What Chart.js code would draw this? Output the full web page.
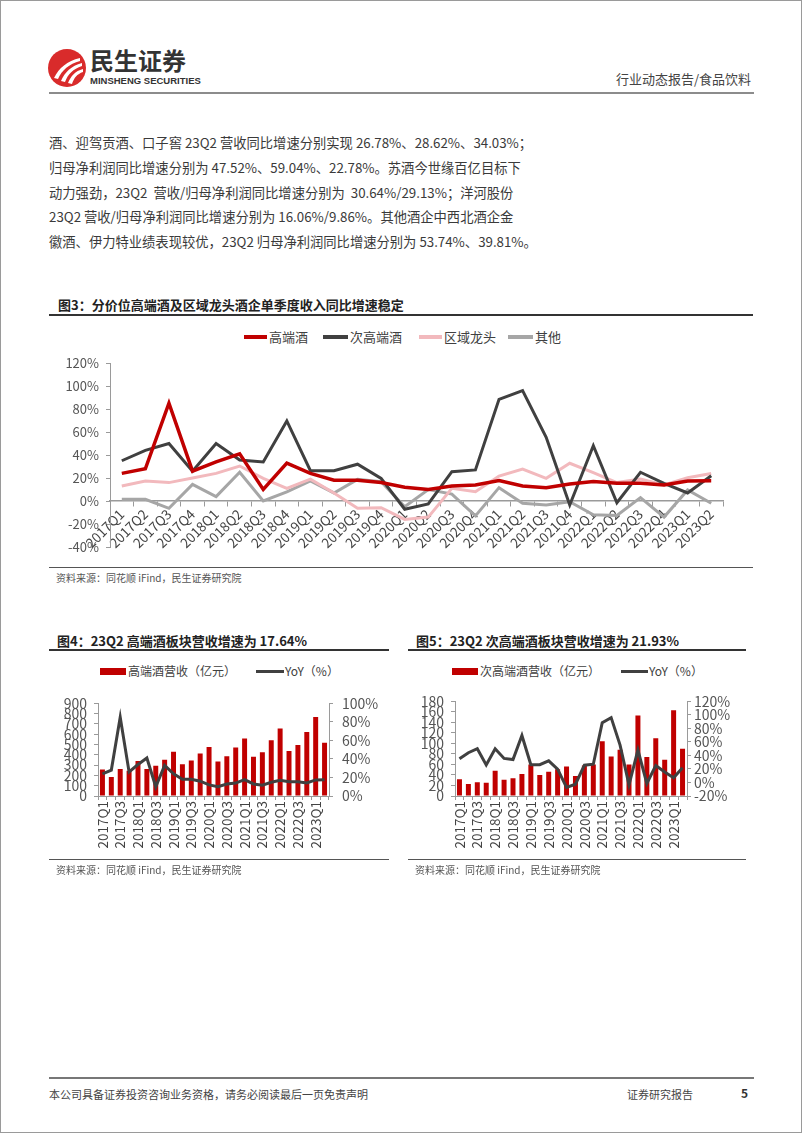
<!DOCTYPE html>
<html lang="zh">
<head>
<meta charset="utf-8">
<title>食品饮料 行业动态报告</title>
<script src="https://cdn.jsdelivr.net/npm/chart.js@4.4.1/dist/chart.umd.min.js"></script>
<style>
    html, body { margin: 0; padding: 0; background: #fff; }
    #page {
        position: relative;
        width: 802px;
        height: 1133px;
        box-sizing: border-box;
        border: 1px solid #9a9a9a;
        overflow: hidden;
        font-family: "Noto Sans CJK SC", "Noto Sans", sans-serif;
        color: #333;
    }
    .abs { position: absolute; white-space: nowrap; }
    .rule { position: absolute; }
    .body-line { position: absolute; left: 48px; font-size: 13.3px; line-height: 20px; color: #3a3a3a; white-space: nowrap; }
    .fig-title { position: absolute; font-size: 13px; line-height: 16px; font-weight: bold; color: #222; white-space: nowrap; }
    .source { position: absolute; font-size: 10px; line-height: 12px; color: #555; white-space: nowrap; }
    .lg-text { position: absolute; color: #404040; white-space: nowrap; }
    .lg-line { position: absolute; }
    canvas { position: absolute; }
</style>
</head>
<body>
<div id="page">

    <!-- header -->
    <svg class="abs" style="left:46px;top:47px;" width="40" height="40" viewBox="0 0 40 40">
        <circle cx="20" cy="20" r="19" fill="#d92b2b"/>
        <path d="M7 30 C 12 20, 20 13, 33 10 L 33 13 C 22 16, 15 22, 11 31 Z" fill="#fff"/>
        <path d="M14 33 C 18 24, 24 18, 35 15 L 35 18 C 26 21, 21 26, 18 34 Z" fill="#fff"/>
        <path d="M21 35 C 24 28, 28 23, 36 21 L 36 24 C 30 26, 27 30, 25 36 Z" fill="#fff"/>
    </svg>
    <div class="abs" style="left:89px;top:45px;font-size:24px;line-height:28px;font-weight:bold;color:#333;">民生证券</div>
    <div class="abs" style="left:89px;top:74px;font-size:9.5px;line-height:12px;font-weight:bold;color:#333;font-family:'Liberation Sans Narrow','Liberation Sans',sans-serif;">MINSHENG SECURITIES</div>
    <div class="abs" style="right:50px;top:70px;font-size:13px;line-height:16px;color:#444;">行业动态报告/食品饮料</div>
    <div class="rule" style="left:48px;top:91px;width:705px;height:2px;background:#8c8c8c;"></div>

    <!-- body text -->
    <div class="body-line" style="top:132px;">酒、迎驾贡酒、口子窖 23Q2 营收同比增速分别实现 26.78%、28.62%、34.03%；</div>
    <div class="body-line" style="top:157px;">归母净利润同比增速分别为 47.52%、59.04%、22.78%。苏酒今世缘百亿目标下</div>
    <div class="body-line" style="top:182px;">动力强劲，23Q2&nbsp; 营收/归母净利润同比增速分别为&nbsp; 30.64%/29.13%；洋河股份</div>
    <div class="body-line" style="top:206px;">23Q2 营收/归母净利润同比增速分别为 16.06%/9.86%。其他酒企中西北酒企金</div>
    <div class="body-line" style="top:231px;">徽酒、伊力特业绩表现较优，23Q2 归母净利润同比增速分别为 53.74%、39.81%。</div>

    <!-- figure 3 -->
    <div class="fig-title" style="left:57px;top:296px;">图3：分价位高端酒及区域龙头酒企单季度收入同比增速稳定</div>
    <div class="rule" style="left:48px;top:313px;width:704px;height:1.5px;background:#333;"></div>

    <div class="lg-line" style="left:243px;top:334px;width:23px;height:3.5px;background:#c00000;"></div>
    <div class="lg-text" style="left:268px;top:328px;font-size:13px;line-height:16px;">高端酒</div>
    <div class="lg-line" style="left:322px;top:334px;width:25px;height:3.5px;background:#404040;"></div>
    <div class="lg-text" style="left:349px;top:328px;font-size:13px;line-height:16px;">次高端酒</div>
    <div class="lg-line" style="left:418px;top:334px;width:23px;height:3.5px;background:#f2b9bd;"></div>
    <div class="lg-text" style="left:443px;top:328px;font-size:13px;line-height:16px;">区域龙头</div>
    <div class="lg-line" style="left:507px;top:334px;width:25px;height:3.5px;background:#a6a6a6;"></div>
    <div class="lg-text" style="left:534px;top:328px;font-size:13px;line-height:16px;">其他</div>

    <canvas id="chartGrowth" width="700" height="215" style="left:40px;top:347px;"></canvas>

    <div class="rule" style="left:48px;top:566px;width:704px;height:1px;background:#555;"></div>
    <div class="source" style="left:55px;top:571px;">资料来源：同花顺 iFind，民生证券研究院</div>

    <!-- figure 4 -->
    <div class="fig-title" style="left:56px;top:632px;">图4：23Q2 高端酒板块营收增速为 17.64%</div>
    <div class="rule" style="left:48px;top:648px;width:340px;height:1.5px;background:#333;"></div>
    <div class="lg-line" style="left:99px;top:667px;width:26px;height:7px;background:#c00000;"></div>
    <div class="lg-text" style="left:127px;top:662px;font-size:12px;line-height:16px;">高端酒营收（亿元）</div>
    <div class="lg-line" style="left:255px;top:669px;width:28px;height:3px;background:#404040;"></div>
    <div class="lg-text" style="left:284px;top:662px;font-size:12px;line-height:16px;">YoY（%）</div>
    <canvas id="chartHigh" width="340" height="175" style="left:45px;top:685px;"></canvas>
    <div class="rule" style="left:48px;top:858px;width:340px;height:1px;background:#555;"></div>
    <div class="source" style="left:55px;top:863px;">资料来源：同花顺 iFind，民生证券研究院</div>

    <!-- figure 5 -->
    <div class="fig-title" style="left:415px;top:632px;">图5：23Q2 次高端酒板块营收增速为 21.93%</div>
    <div class="rule" style="left:407px;top:648px;width:338px;height:1.5px;background:#333;"></div>
    <div class="lg-line" style="left:451px;top:667px;width:26px;height:7px;background:#c00000;"></div>
    <div class="lg-text" style="left:479px;top:662px;font-size:12px;line-height:16px;">次高端酒营收（亿元）</div>
    <div class="lg-line" style="left:620px;top:669px;width:27px;height:3px;background:#404040;"></div>
    <div class="lg-text" style="left:648px;top:662px;font-size:12px;line-height:16px;">YoY（%）</div>
    <canvas id="chartSub" width="340" height="175" style="left:405px;top:685px;"></canvas>
    <div class="rule" style="left:407px;top:858px;width:338px;height:1px;background:#555;"></div>
    <div class="source" style="left:414px;top:863px;">资料来源：同花顺 iFind，民生证券研究院</div>

    <!-- footer -->
    <div class="rule" style="left:48px;top:1076px;width:705px;height:1.5px;background:#777;"></div>
    <div class="abs" style="left:48px;top:1086px;font-size:11px;line-height:14px;color:#444;">本公司具备证券投资咨询业务资格，请务必阅读最后一页免责声明</div>
    <div class="abs" style="left:626px;top:1086px;font-size:11px;line-height:14px;color:#444;">证券研究报告</div>
    <div class="abs" style="left:740px;top:1085px;font-size:12px;line-height:14px;font-weight:bold;color:#333;">5</div>
</div>

<script>
'use strict';

// Quarters 2017Q1 .. 2023Q2
var quarters = [
    '2017Q1', '2017Q2', '2017Q3', '2017Q4',
    '2018Q1', '2018Q2', '2018Q3', '2018Q4',
    '2019Q1', '2019Q2', '2019Q3', '2019Q4',
    '2020Q1', '2020Q2', '2020Q3', '2020Q4',
    '2021Q1', '2021Q2', '2021Q3', '2021Q4',
    '2022Q1', '2022Q2', '2022Q3', '2022Q4',
    '2023Q1', '2023Q2'
];

// YoY growth by price tier (%)
var highEndYoy = [24, 28, 85, 26, 34, 41, 10, 33, 24, 18, 18, 16, 12, 10, 13, 14, 17.7, 13, 11.6, 14.8, 17, 15.4, 15.4, 14, 17.4, 17.64];
var subHighYoy = [35, 44, 50, 26, 50, 35.6, 34, 69.6, 26.4, 26.4, 32, 19.7, -7.2, -2.6, 25.5, 27, 88.4, 96, 55.4, -3.5, 48, -1.5, 25, 15.4, 7, 21.93];
var regionalYoy = [13, 17.4, 16, 20, 24, 30.4, 19.7, 11, 19, 7, -6.4, -5.8, -16, -14, 11, 8, 21.7, 27.8, 19.7, 32.8, 24.6, 16, 19, 14, 20.3, 24];
var otherYoy = [1.5, 1.5, -6.4, 14.5, 3.8, 25, 0, 8, 17.4, 7, 18.8, 16.8, -5, 10, 6, -13, 11.6, -2, -3.5, -0.6, -12, -12.5, 3, -14, 9.6, -2];

// Revenue (100M CNY)
var highEndRevenue = [257, 184, 263, 245, 341, 263, 293, 353, 429, 308, 344, 414, 477, 335, 387, 471, 559, 381, 426, 541, 656, 438, 495, 622, 767, 517];
var subHighRevenue = [32, 23, 26, 25, 48, 31, 34, 42, 60, 40, 46, 51, 56, 38, 58, 60, 104, 75, 88, 60, 153, 74, 110, 69, 163, 90];

// Axis tick settings
var growthTicks = { min: -40, max: 120, step: 20 };
var highRevenueTicks = { min: 0, max: 900, step: 100 };
var highYoyTicks = { min: 0, max: 100, step: 20 };
var subRevenueTicks = { min: 0, max: 180, step: 20 };
var subYoyTicks = { min: -20, max: 120, step: 20 };

var FONT = '"Noto Sans CJK SC", "Noto Sans", sans-serif';
Chart.defaults.font.family = FONT;
Chart.defaults.color = '#404040';
Chart.defaults.animation = false;

var RED = '#c00000';
var DARK = '#404040';
var PINK = '#f2b9bd';
var GREY = '#a6a6a6';
var AXIS = '#9a9a9a';

function fixWidth(w) {
    return function (scale) { scale.width = w; };
}

function fixHeight(h) {
    return function (scale) { scale.height = h; };
}

function pct(v) {
    return v + '%';
}

function lineSet(label, data, color, width) {
    return {
        label: label,
        data: data,
        borderColor: color,
        backgroundColor: color,
        borderWidth: width,
        pointRadius: 0,
        tension: 0,
        fill: false
    };
}

// Figure 3: quarterly YoY growth
new Chart(document.getElementById('chartGrowth'), {
    type: 'line',
    data: {
        labels: quarters,
        datasets: [
            lineSet('高端酒', highEndYoy, RED, 3.5),
            lineSet('次高端酒', subHighYoy, DARK, 3),
            lineSet('区域龙头', regionalYoy, PINK, 3),
            lineSet('其他', otherYoy, GREY, 3)
        ]
    },
    options: {
        responsive: false,
        layout: { padding: { top: 15, right: 18, bottom: 16, left: 0 } },
        plugins: { legend: { display: false }, tooltip: { enabled: false } },
        scales: {
            x: {
                offset: true,
                position: { y: 0 },
                grid: { drawOnChartArea: false, offset: true, tickLength: 5, color: AXIS },
                border: { color: AXIS, width: 1.5 },
                ticks: { autoSkip: false, minRotation: 45, maxRotation: 45, padding: 0, font: { size: 13.5 }, color: '#444' },
                afterFit: fixHeight(0)
            },
            y: {
                min: growthTicks.min,
                max: growthTicks.max,
                grid: { drawOnChartArea: false, tickLength: 4, color: AXIS },
                border: { color: AXIS },
                ticks: { autoSkip: false, stepSize: growthTicks.step, callback: pct, padding: 7, font: { size: 13 }, color: '#555' },
                afterFit: fixWidth(69)
            }
        }
    }
});

// Figures 4 and 5: revenue bars + YoY line
function revenueChart(id, revenue, yoy, revTicks, yoyTicks, leftW, rightW, rightPad) {
    return new Chart(document.getElementById(id), {
        type: 'bar',
        data: {
            labels: quarters,
            datasets: [
                {
                    type: 'line',
                    label: 'YoY（%）',
                    data: yoy,
                    yAxisID: 'y1',
                    borderColor: DARK,
                    borderWidth: 3,
                    pointRadius: 0,
                    tension: 0,
                    order: 0
                },
                {
                    type: 'bar',
                    label: '营收（亿元）',
                    data: revenue,
                    yAxisID: 'y',
                    backgroundColor: RED,
                    barPercentage: 0.56,
                    categoryPercentage: 1,
                    order: 1
                }
            ]
        },
        options: {
            responsive: false,
            layout: { padding: { top: 11, right: 0, bottom: 0, left: 0 } },
            plugins: { legend: { display: false }, tooltip: { enabled: false } },
            scales: {
                x: {
                    offset: true,
                    grid: { drawOnChartArea: false, offset: true, tickLength: 4, color: AXIS },
                    border: { color: AXIS },
                    ticks: {
                        autoSkip: false,
                        minRotation: 90,
                        maxRotation: 90,
                        padding: 1,
                        font: { size: 13.5 },
                        color: '#444',
                        callback: function (v, i) { return i % 2 === 0 ? quarters[i] : ''; }
                    },
                    afterFit: fixHeight(65)
                },
                y: {
                    position: 'left',
                    min: revTicks.min,
                    max: revTicks.max,
                    grid: { drawOnChartArea: false, tickLength: 4, color: AXIS },
                    border: { color: AXIS },
                    ticks: { autoSkip: false, stepSize: revTicks.step, padding: 7, font: { size: 14 }, color: '#555' },
                    afterFit: fixWidth(leftW)
                },
                y1: {
                    position: 'right',
                    min: yoyTicks.min,
                    max: yoyTicks.max,
                    grid: { drawOnChartArea: false, tickLength: 4, color: AXIS },
                    border: { color: AXIS },
                    ticks: { autoSkip: false, stepSize: yoyTicks.step, callback: pct, padding: rightPad, font: { size: 14 }, color: '#555' },
                    afterFit: fixWidth(rightW)
                }
            }
        }
    }
    );
}

revenueChart('chartHigh', highEndRevenue, highEndYoy, highRevenueTicks, highYoyTicks, 52, 57, 9);
revenueChart('chartSub', subHighRevenue, subHighYoy, subRevenueTicks, subYoyTicks, 49, 59, 3);
</script>
</body>
</html>
